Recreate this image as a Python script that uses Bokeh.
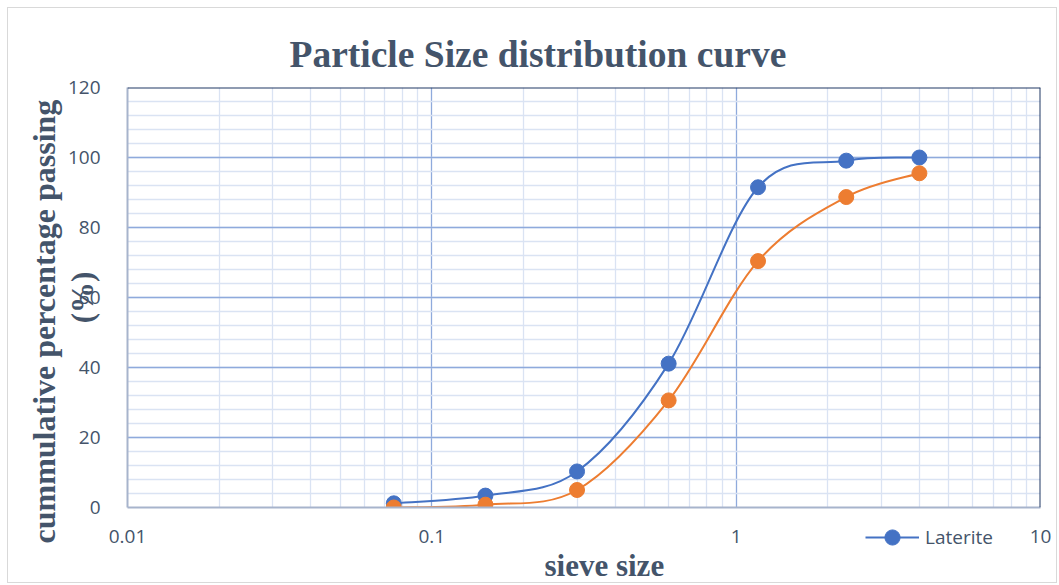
import numpy as np
from bokeh.plotting import figure
from bokeh.layouts import column
from bokeh.models import (FixedTicker, SingleIntervalTicker, Span, Legend,
                          LegendItem, Range1d, Title)
from bokeh.embed import file_html
from bokeh.resources import INLINE

# ---- data ----
sieve_size = [0.075, 0.15, 0.3, 0.6, 1.18, 2.3, 4.0]
laterite = [1.2, 3.4, 10.3, 41.1, 91.5, 99.1, 100.0]
second_series = [0.0, 0.8, 5.0, 30.6, 70.4, 88.7, 95.5]
x_tick_values = [0.01, 0.1, 1, 10]
x_tick_labels = ["0.01", "0.1", "1", "10"]

BLUE = "#4472C4"
ORANGE = "#ED7D31"
TEXT = "#44546A"
SERIF = "Liberation Serif"

p = figure(width=1050, height=576, x_axis_type="log",
           x_range=Range1d(0.01, 10), y_range=Range1d(0, 120),
           output_backend="svg", toolbar_location=None,
           min_border_left=119, min_border_right=18, min_border_top=79,
           min_border_bottom=77)
p.styles = {"border": "1px solid #D9D9D9", "margin-left": "7px", "margin-top": "7px"}
p.outline_line_color = None
p.background_fill_color = "white"

# title
p.title.text = "Particle Size distribution curve"
p.title.align = "left"
p.title.offset = 162
p.title.standoff = 25
p.title.text_font = SERIF
p.title.text_font_style = "bold"
p.title.text_font_size = "37.5px"
p.title.text_color = TEXT

# axes
minor_x = [m * d for d in (0.01, 0.1, 1) for m in range(2, 10)]
p.xaxis.ticker = FixedTicker(ticks=x_tick_values, minor_ticks=minor_x)
p.xaxis.major_label_overrides = {v: s for v, s in zip(x_tick_values, x_tick_labels)}
p.yaxis.ticker = SingleIntervalTicker(interval=20, num_minor_ticks=5)
for ax in (p.xaxis, p.yaxis):
    ax.major_tick_line_color = None
    ax.minor_tick_line_color = None
    ax.major_label_text_font = "Open Sans"
    ax.major_label_text_font_size = "19px"
    ax.major_label_text_color = TEXT
    ax.axis_line_color = "#A7B4CC"
    ax.axis_line_width = 2
p.xaxis.major_label_standoff = 16
p.yaxis.major_label_standoff = 21
p.yaxis.axis_label = "(%)"
p.yaxis.axis_label_standoff = -35
p.yaxis.axis_label_text_font = SERIF
p.yaxis.axis_label_text_font_style = "bold"
p.yaxis.axis_label_text_font_size = "31px"
p.yaxis.axis_label_text_color = TEXT

p.add_layout(Title(text="cummulative percentage passing", align="left", offset=-36,
                   standoff=0, text_font=SERIF, text_font_style="bold",
                   text_font_size="32px", text_color=TEXT), "left")
p.add_layout(Title(text="sieve size", align="left", offset=417, standoff=0,
                   text_font=SERIF, text_font_style="bold",
                   text_font_size="31px", text_color=TEXT), "below")

# grid
for g in (p.xgrid, p.ygrid):
    g.grid_line_color = "#8FAADC"
    g.grid_line_width = 1.3
    g.minor_grid_line_color = "#DAE3F3"
    g.minor_grid_line_width = 1.3

# top/right frame border
p.add_layout(Span(location=120, dimension="width", line_color="#203864", line_width=2))
p.add_layout(Span(location=10, dimension="height", line_color="#203864", line_width=2))


def smooth(xs, ys):
    """Catmull-Rom style Bezier segments (Excel smoothed line) in log-x space."""
    lx = np.log10(np.array(xs, dtype=float))
    yy = np.array(ys, dtype=float)
    n = len(lx)
    px = np.concatenate([[lx[0]], lx, [lx[-1]]])
    py = np.concatenate([[yy[0]], yy, [yy[-1]]])
    x0, y0, x1, y1, cx0, cy0, cx1, cy1 = ([] for _ in range(8))
    for i in range(n - 1):
        a, b, c, d = i, i + 1, i + 2, i + 3
        x0.append(px[b]); y0.append(py[b])
        x1.append(px[c]); y1.append(py[c])
        cx0.append(px[b] + (px[c] - px[a]) / 6); cy0.append(py[b] + (py[c] - py[a]) / 6)
        cx1.append(px[c] - (px[d] - px[b]) / 6); cy1.append(py[c] - (py[d] - py[b]) / 6)
    t = lambda arr: list(10 ** np.array(arr))
    return dict(x0=t(x0), y0=y0, x1=t(x1), y1=y1, cx0=t(cx0), cy0=cy0, cx1=t(cx1), cy1=cy1)


p.bezier(**smooth(sieve_size, laterite), line_color=BLUE, line_width=2)
p.scatter(sieve_size, laterite, size=15, fill_color=BLUE, line_color=BLUE)
p.bezier(**smooth(sieve_size, second_series), line_color=ORANGE, line_width=2)
p.scatter(sieve_size, second_series, size=15, fill_color=ORANGE, line_color=ORANGE)

# legend (sits below the plot area, on the tick-label row, as in the reference)
lf = figure(width=300, height=50, x_range=Range1d(1000, 1001), y_range=Range1d(1000, 1001),
            output_backend="svg", toolbar_location=None, min_border=0)
lf.axis.visible = False
lf.grid.visible = False
lf.outline_line_color = None
lf.background_fill_alpha = 0
lf.border_fill_alpha = 0
lf.styles = {"margin-top": "-65px", "margin-left": "746px"}
ll = lf.line(sieve_size, laterite, line_color=BLUE, line_width=2)
lm = lf.scatter(sieve_size, laterite, size=15, fill_color=BLUE, line_color=BLUE)
legend = Legend(items=[LegendItem(label="Laterite", renderers=[ll, lm])],
                location="top_left", orientation="horizontal",
                label_text_font="Open Sans", label_text_font_size="19px",
                label_text_color=TEXT, glyph_width=54, glyph_height=38,
                label_standoff=6, padding=4, margin=0, spacing=0,
                border_line_color=None, background_fill_alpha=0)
lf.add_layout(legend, "center")

layout = column(p, lf, spacing=0)
open("out.html", "w").write(file_html(layout, INLINE))
